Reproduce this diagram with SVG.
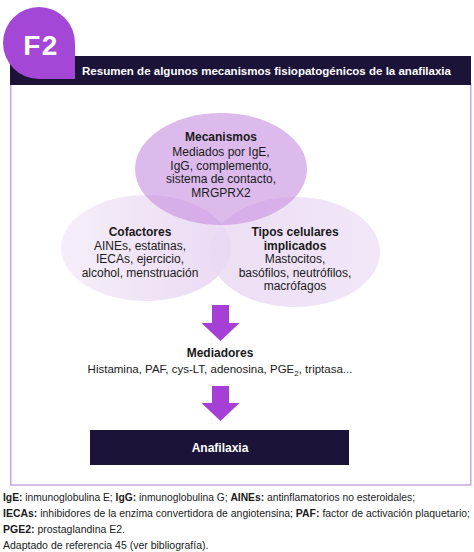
<svg xmlns="http://www.w3.org/2000/svg" width="474" height="552" viewBox="0 0 474 552">
<defs>
<style>
text{font-family:"Liberation Sans",Arial,sans-serif;fill:#1a1a1a}
.b{font-weight:bold}
.t{font-size:12px;text-anchor:middle}
.w{fill:#ffffff}
.f{font-size:10.5px}
.arr{fill:#a53fd6}
</style>
<linearGradient id="gl" x1="0" y1="0" x2="1" y2="0">
<stop offset="0" stop-color="#f5eef9"/>
<stop offset="1" stop-color="#e9d8f2"/>
</linearGradient>
<linearGradient id="gr" x1="0" y1="0" x2="1" y2="0">
<stop offset="0" stop-color="#e9d9f3"/>
<stop offset="1" stop-color="#efe2f7"/>
</linearGradient>
</defs>
<rect width="474" height="552" fill="#ffffff"/>
<g id="frame">
<rect x="10.75" y="84" width="460" height="401" fill="none" stroke="#c9a6e2" stroke-width="1.5"/>
<rect x="10" y="56" width="461" height="29" fill="#1c1438"/>
<text x="82" y="75" class="b w" font-size="11.5" textLength="369" lengthAdjust="spacingAndGlyphs">Resumen de algunos mecanismos fisiopatogénicos de la anafilaxia</text>
</g>
<g id="badge">
<path d="M3,43 A36,36 0 0 1 75,43 L75,79 L39,79 A36,36 0 0 1 3,43 Z" fill="#a447d6"/>
<text x="41" y="55" class="b w" font-size="28" text-anchor="middle" letter-spacing="1.5">F2</text>
</g>
<g id="cofactores">
<ellipse cx="146" cy="248" rx="85" ry="53" fill="url(#gl)" opacity="0.95"/>
</g>
<g id="tipos">
<ellipse cx="295" cy="252" rx="85" ry="55" fill="url(#gr)" opacity="0.85"/>
</g>
<g id="mecanismos">
<ellipse cx="221" cy="169" rx="86" ry="56" fill="#c88fe0" opacity="0.62"/>
<text class="t b" x="221" y="141">Mecanismos</text>
<text class="t" x="221" y="156">Mediados por IgE,</text>
<text class="t" x="221" y="169.5">IgG, complemento,</text>
<text class="t" x="221" y="183">sistema de contacto,</text>
<text class="t" x="221" y="196.5">MRGPRX2</text>
</g>
<g id="cofactores-text">
<text class="t b" x="140" y="236">Cofactores</text>
<text class="t" x="140" y="249.5">AINEs, estatinas,</text>
<text class="t" x="140" y="263">IECAs, ejercicio,</text>
<text class="t" x="140" y="276.5">alcohol, menstruación</text>
</g>
<g id="tipos-text">
<text class="t b" x="295" y="236">Tipos celulares</text>
<text class="t b" x="295" y="249.5">implicados</text>
<text class="t" x="295" y="263">Mastocitos,</text>
<text class="t" x="295" y="276.5">basófilos, neutrófilos,</text>
<text class="t" x="295" y="290">macrófagos</text>
</g>
<g id="connectors">
<path class="arr" d="M212,305 H229 V323 H239.5 L220.5,341 L201.5,323 H212 Z"/>
<path class="arr" d="M212,386 H229 V403 H239.5 L220.5,421 L201.5,403 H212 Z"/>
</g>
<g id="mediadores">
<text class="t b" x="220" y="357">Mediadores</text>
<text class="t" x="220" y="373" style="font-size:11.5px">Histamina, PAF, cys-LT, adenosina, PGE<tspan style="font-size:8px" dy="3">2</tspan><tspan dy="-3">, triptasa...</tspan></text>
</g>
<g id="anafilaxia">
<rect x="90" y="430" width="259" height="35" fill="#1c1438"/>
<text class="t b w" x="220" y="451.5">Anafilaxia</text>
</g>
<g id="footer">
<text class="f" x="3" y="501" textLength="412" lengthAdjust="spacingAndGlyphs"><tspan class="b">IgE:</tspan> inmunoglobulina E; <tspan class="b">IgG:</tspan> inmunoglobulina G; <tspan class="b">AINEs:</tspan> antinflamatorios no esteroidales;</text>
<text class="f" x="3" y="517" textLength="467" lengthAdjust="spacingAndGlyphs"><tspan class="b">IECAs:</tspan> inhibidores de la enzima convertidora de angiotensina; <tspan class="b">PAF:</tspan> factor de activación plaquetario;</text>
<text class="f" x="3" y="533"><tspan class="b">PGE2:</tspan> prostaglandina E2.</text>
<text class="f" x="3" y="549">Adaptado de referencia 45 (ver bibliografía).</text>
</g>
</svg>
